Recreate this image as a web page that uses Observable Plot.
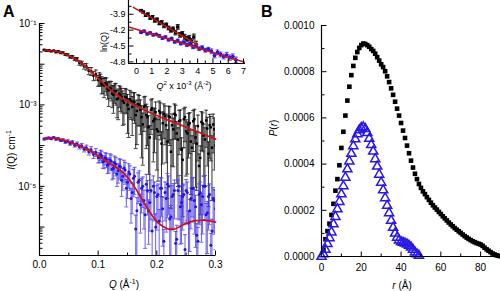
<!DOCTYPE html>
<html><head><meta charset="utf-8">
<script src="https://cdn.jsdelivr.net/npm/d3@7"></script>
<script src="https://cdn.jsdelivr.net/npm/@observablehq/plot@0.6"></script>
<style>
html,body{margin:0;padding:0;background:#fff;}
#wrap{position:relative;width:500px;height:291px;overflow:hidden;background:#fff;}
#wrap svg{position:absolute;}
</style></head><body><div id="wrap"></div>
<script>
const Q = [0.008,0.012,0.016,0.020,0.024,0.028,0.032,0.036,0.040,0.044,0.048,0.052,0.056,0.060,0.064,0.068,0.072,0.076,0.080,0.084,0.088,0.092,0.096,0.100,0.104,0.108,0.112,0.116,0.120,0.124,0.128,0.132,0.136,0.140,0.144,0.148,0.152,0.156,0.160,0.164,0.168,0.172,0.176,0.180,0.184,0.188,0.192,0.196,0.200,0.204,0.208,0.212,0.216,0.220,0.224,0.228,0.232,0.236,0.240,0.244,0.248,0.252,0.256,0.260,0.264,0.268,0.272,0.276,0.280,0.284,0.288,0.292,0.296,0.300];
const blackLog10I = [-1.65,-1.67,-1.66,-1.68,-1.67,-1.70,-1.69,-1.72,-1.72,-1.76,
 -1.77,-1.82,-1.82,-1.87,-1.88,-1.97,-1.98,-2.05,-2.06,-2.16,
 -2.17,-2.28,-2.25,-2.39,
 -2.37,-2.50,-2.47,-2.60,-2.58,-2.72,-2.66,-2.86,-2.72,-2.80,-2.95,-2.82,
 -3.10,-2.90,-2.92,-3.25,-2.98,-3.12,-3.48,-3.02,-3.30,-3.80,-3.08,-3.35,-3.60,-3.15,
 -3.95,-3.22,-3.50,-3.28,-4.15,-3.60,-3.25,-3.85,-3.38,-4.35,-3.30,-3.70,-3.45,-4.05,-3.35,-3.95,-4.50,-3.42,-3.75,-3.38,-4.20,-3.55,-3.48,-4.00];
const blackRelErr = [0.04,0.04,0.04,0.04,0.04,0.05,0.05,0.05,0.05,0.05,
 0.06,0.07,0.08,0.09,0.1,0.12,0.13,0.15,
 0.18,0.2,0.22,0.25,0.28,0.3,
 0.33,0.4,0.38,0.45,0.45,0.55,0.5,0.65,0.55,0.6,0.7,0.6,
 0.8,0.65,0.65,0.85,0.7,0.75,0.9,0.7,0.8,0.95,0.7,0.85,0.9,0.75,
 0.95,0.75,0.88,0.78,0.96,0.88,0.75,0.93,0.8,0.96,0.75,0.9,0.82,0.95,0.75,0.93,0.96,0.8,0.9,0.78,0.95,0.85,0.8,0.92];
const blueLog10I = [-3.84,-3.82,-3.81,-3.83,-3.80,-3.84,-3.83,-3.87,-3.86,-3.91,
 -3.89,-3.95,-3.92,-3.99,-3.96,-4.03,-4.00,-4.09,-4.05,-4.15,
 -4.10,-4.22,-4.16,-4.30,
 -4.22,-4.40,-4.30,-4.48,-4.35,-4.58,-4.42,-4.70,-4.50,-4.85,-4.55,-5.05,
 -4.65,-5.30,-4.80,-6.05,-4.90,-5.45,-5.00,-5.70,-5.10,-5.40,-6.10,-5.15,-5.25,-5.85,
 -5.05,-6.35,-5.30,-5.00,-5.75,-5.20,-6.40,-5.10,-5.50,-5.25,-6.55,-5.15,-5.60,-5.05,-5.35,-6.20,-5.20,-5.45,-5.00,-5.70,-5.25,-6.45,-5.30,-5.55];
const blueRelErr = [0.05,0.05,0.05,0.05,0.05,0.06,0.06,0.06,0.07,0.07,
 0.08,0.09,0.1,0.1,0.11,0.12,0.13,0.14,
 0.15,0.17,0.18,0.2,0.22,0.25,
 0.28,0.3,0.33,0.38,0.4,0.45,0.45,0.5,0.5,0.6,0.55,0.65,
 0.6,0.75,0.65,1.2,0.7,0.8,0.7,0.85,0.75,0.8,0.9,0.8,0.85,0.9,
 0.8,0.95,0.85,0.8,0.9,0.85,0.95,0.8,0.88,0.85,1.3,0.8,0.9,0.8,0.85,0.92,0.82,0.88,0.8,0.9,0.85,0.95,0.85,0.9];
// interleaved high-Q points
const Q2 = [0.102,0.106,0.110,0.114,0.118,0.122,0.126,0.130,0.134,0.138,0.142,0.146,0.150,0.154,0.158,0.162,0.166,0.170,0.174,0.178,0.182,0.186,0.190,0.194,0.198,0.202,0.206,0.210,0.214,0.218,0.222,0.226,0.230,0.234,0.238,0.242,0.246,0.250,0.254,0.258,0.262,0.266,0.270,0.274,0.278,0.282,0.286,0.290,0.294,0.298];
const black2Log10I = [-2.34,-2.47,-2.52,-2.50,-2.64,-2.60,-2.75,-2.66,-2.84,-2.76,
 -2.90,-2.80,-3.00,-2.86,-3.05,-2.93,-3.15,-3.00,-3.30,-3.05,
 -3.25,-3.55,-3.12,-3.40,-3.18,-3.65,-3.20,-3.45,-3.28,-3.90,
 -3.30,-3.50,-3.22,-3.70,-3.40,-4.10,-3.35,-3.65,-3.48,-3.90,
 -3.40,-3.80,-3.52,-4.30,-3.45,-3.85,-3.58,-3.50,-4.05,-3.60];
const black2RelErr = [0.35,0.45,0.5,0.45,0.6,0.5,0.65,0.55,0.7,0.6,
 0.75,0.6,0.8,0.65,0.8,0.7,0.85,0.7,0.9,0.75,
 0.85,0.93,0.75,0.9,0.78,0.94,0.78,0.9,0.8,0.96,
 0.8,0.9,0.75,0.94,0.85,0.96,0.8,0.92,0.85,0.95,
 0.82,0.94,0.86,0.96,0.8,0.93,0.88,0.85,0.95,0.9];
const blue2Log10I = [-4.28,-4.25,-4.38,-4.33,-4.45,-4.38,-4.55,-4.46,-4.62,-4.52,
 -4.75,-4.60,-4.90,-4.70,-5.15,-4.75,-5.60,-4.85,-5.05,-5.35,
 -4.95,-5.60,-5.10,-5.00,-6.00,-5.20,-5.05,-5.55,-5.15,-4.95,
 -5.80,-5.25,-5.10,-6.30,-5.00,-5.40,-5.20,-5.10,-5.90,-5.30,
 -5.05,-5.50,-6.35,-5.15,-5.25,-5.00,-5.65,-5.20,-6.10,-5.35];
const blue2RelErr = [0.28,0.3,0.35,0.38,0.4,0.42,0.45,0.48,0.5,0.52,
 0.55,0.55,0.6,0.6,0.7,0.65,1.1,0.7,0.75,0.8,
 0.75,0.85,0.8,0.8,1.1,0.8,0.85,0.88,0.8,0.85,
 0.9,0.85,0.8,1.2,0.85,0.9,0.8,0.85,0.95,0.82,
 0.85,0.9,1.2,0.8,0.88,0.85,0.9,0.82,0.95,0.85];
const fitQ = [0.008,0.02,0.04,0.06,0.08,0.10,0.12,0.14,0.15,0.16,0.17,0.18,0.19,0.20,0.21,0.22,0.23,0.24,0.25,0.26,0.27,0.28,0.29,0.30];
const blackFitLog10I = [-1.66,-1.67,-1.73,-1.86,-2.08,-2.35,-2.62,-2.83,-2.91,-2.99,-3.06,-3.13,-3.20,-3.26,-3.32,-3.38,-3.43,-3.49,-3.55,-3.61,-3.66,-3.72,-3.78,-3.84];
const blueFitLog10I = [-3.83,-3.81,-3.86,-3.96,-4.08,-4.25,-4.44,-4.63,-4.78,-4.97,-5.20,-5.45,-5.68,-5.86,-5.98,-6.05,-6.05,-5.98,-5.91,-5.86,-5.84,-5.83,-5.85,-5.88];
const aXTicks = [0, 0.1, 0.2, 0.3];
const aXTickLabels = ["0.0", "0.1", "0.2", "0.3"];
const aYTicks = [1e-1, 1e-3, 1e-5];
const aYTickLabels = ["10\u207B\u00B9", "10\u207B\u00B3", "10\u207B\u2075"];

// ---------- Inset: Guinier plot ----------
const insetBlackQ2 = [0.3,0.45,0.6,0.75,0.9,1.05,1.2,1.35,1.5,1.65,1.8,1.95,2.1,2.25,2.4,2.55,2.7,2.85,3.0,3.15,3.3,3.45,3.6,3.75,3.9];
const insetBlackLn = [-3.83,-3.86,-3.92,-3.90,-3.97,-3.95,-4.02,-4.00,-4.07,-4.05,-4.12,-4.10,-4.16,-4.20,-4.18,-4.25,-4.14,-4.29,-4.27,-4.33,-4.37,-4.35,-4.42,-4.33,-4.47];
const insetBlackErr = [0.02,0.02,0.02,0.025,0.025,0.025,0.03,0.03,0.03,0.03,0.035,0.035,0.035,0.04,0.04,0.04,0.045,0.045,0.045,0.05,0.05,0.05,0.055,0.055,0.06];
const insetBlueQ2 = [0.3,0.5,0.7,0.9,1.1,1.3,1.5,1.7,1.9,2.1,2.3,2.5,2.7,2.9,3.1,3.3,3.5,3.7,3.9,4.1,4.3,4.5,4.7,4.9,5.1,5.3,5.5,5.7,5.9,6.1,6.3,6.5];
const insetBlueLn = [-4.24,-4.22,-4.27,-4.25,-4.29,-4.28,-4.31,-4.35,-4.33,-4.38,-4.36,-4.42,-4.40,-4.45,-4.43,-4.48,-4.46,-4.52,-4.50,-4.55,-4.53,-4.58,-4.56,-4.60,-4.68,-4.62,-4.66,-4.70,-4.67,-4.72,-4.70,-4.76];
const insetBlueErr = [0.02,0.02,0.02,0.02,0.02,0.02,0.025,0.025,0.025,0.025,0.025,0.025,0.03,0.03,0.03,0.03,0.03,0.03,0.035,0.035,0.035,0.035,0.035,0.045,0.045,0.045,0.045,0.045,0.05,0.05,0.05,0.05];
const insetBlackFitQ2 = [-0.2, 4.0];
const insetBlackFitLn = [-3.77, -4.48];
const insetBlueFitQ2 = [-0.5, 7.13];
const insetBlueFitLn = [-4.14, -4.81];
const insetXTicks = [0,1,2,3,4,5,6,7];
const insetYTicks = [-3.9,-4.2,-4.5,-4.8];

// ---------- Panel B: P(r), values in units of 1e-4 ----------
const blackR = [1,2,3,4,5,6,7,8,9,10,11,12,13,14,15,16,17,18,19,20,21,22,23,24,25,26,27,28,29,30,31,32,33,34,35,36,37,38,39,40,41,42,43,44,45,46,47,48,49,50,51,52,53,54,55,56,57,58,59,60,61,62,63,64,65,66,67,68,69,70,71,72,73,74,75,76,77,78,79,80,81,82,83,84,85,86,87,88,89,90];
const blackP_1e4 = [0.3,0.75,1.1,1.42,1.8,2.28,2.85,3.35,3.95,4.7,5.4,6.1,6.75,7.35,7.85,8.25,8.6,8.85,9.03,9.15,
 9.22,9.2,9.15,9.08,8.98,8.9,8.78,8.63,8.48,8.32,8.2,8.02,7.8,7.55,7.28,7.0,6.7,6.4,6.1,5.78,
 5.45,5.13,4.8,4.47,4.15,3.85,3.58,3.35,3.14,2.97,2.82,2.7,2.57,2.45,2.33,2.22,2.12,2.03,1.93,1.84,
 1.74,1.65,1.56,1.47,1.39,1.31,1.23,1.16,1.09,1.02,0.95,0.88,0.82,0.76,0.71,0.66,0.62,0.58,0.55,0.52,
 0.46,0.38,0.31,0.25,0.19,0.13,0.09,0.05,0.03,0.01];
const blueR = [0,1,2,3,4,5,6,7,8,9,10,11,12,13,14,15,16,17,18,19,20,21,22,23,24,25,26,27,28,29,30,31,32,33,34,35,36,37,38,39,40,41,42,43,44,45,46,47,48,49];
const blueP_1e4 = [0,0.1,0.3,0.55,0.8,1.05,1.4,1.72,2.05,2.37,2.7,3.05,3.42,3.78,4.12,4.45,4.78,5.08,5.3,5.47,
 5.57,5.6,5.53,5.35,5.1,4.83,4.55,4.22,3.9,3.55,3.2,2.87,2.53,2.2,1.88,1.55,1.25,1.0,0.82,0.7,
 0.63,0.6,0.57,0.53,0.47,0.4,0.3,0.18,0.1,0.04];
const bXTicks = [0,20,40,60,80];
const bYTicks = [0,0.0002,0.0004,0.0006,0.0008,0.0010];

// ---------- helpers ----------
const FONT = '"Liberation Sans", Arial, sans-serif';
const capSym = {draw(c){ c.moveTo(-2,0); c.lineTo(2,0); }};
const tickRight = len => ({draw(c){ c.moveTo(0,0); c.lineTo(len,0); }});
const tickUp = len => ({draw(c){ c.moveTo(0,0); c.lineTo(0,-len); }});
const axStyle = {stroke:"#000", fill:"none", strokeWidth:1};
function ticksMarks(xMajor, xMinor, yMajor, yMinor){
  return [
    Plot.dot(xMajor, {x:d=>d, frameAnchor:"bottom", symbol:tickUp(5), ...axStyle}),
    Plot.dot(xMinor, {x:d=>d, frameAnchor:"bottom", symbol:tickUp(3), ...axStyle}),
    Plot.dot(yMajor, {y:d=>d, frameAnchor:"left", symbol:tickRight(5), ...axStyle}),
    Plot.dot(yMinor, {y:d=>d, frameAnchor:"left", symbol:tickRight(3), ...axStyle})
  ];
}
const wrap = document.getElementById("wrap");
function place(svg, left, top){ svg.style.left = left + "px"; svg.style.top = top + "px"; wrap.appendChild(svg); }

// ---------- Panel A main ----------
const A_YMIN = 2e-7;
function rowsA(qs, logI, rel){
  return qs.map((q,i) => { const I = 10 ** logI[i], e = rel[i];
    return {q, I, hi: I*(1+e), lo: e < 1 ? I*(1-e) : A_YMIN, capLo: e < 1}; });
}
const blackRows = rowsA(Q, blackLog10I, blackRelErr).concat(rowsA(Q2, black2Log10I, black2RelErr));
const blueRows = rowsA(Q, blueLog10I, blueRelErr).concat(rowsA(Q2, blue2Log10I, blue2RelErr));
const fitRows = fitQ.map((q,i) => ({q, black: 10 ** blackFitLog10I[i], blue: 10 ** blueFitLog10I[i]}));
const aYMajor = [], aYMinor = [];
for (let k = -7; k <= -1; k++) { const b = 10 ** k; if (b >= A_YMIN) aYMajor.push(b);
  for (let m = 2; m <= 9; m++) { const v = m * b; if (v >= A_YMIN && v < 0.1) aYMinor.push(v); } }
const aXMinor = [0.05, 0.15, 0.25];
const aXFmt = new Map(aXTicks.map((t,i)=>[t, aXTickLabels[i]]));
const aYFmt = new Map(aYTicks.map((t,i)=>[t, aYTickLabels[i]]));
function errMarks(rows, barColor, ptColor, symbol, r){
  return [
    Plot.ruleX(rows, {x:"q", y1:"lo", y2:"hi", stroke:barColor, strokeWidth:0.85, clip:true}),
    Plot.dot(rows, {x:"q", y:"hi", symbol:capSym, stroke:barColor, strokeWidth:0.8, fill:"none", clip:true}),
    Plot.dot(rows.filter(d=>d.capLo), {x:"q", y:"lo", symbol:capSym, stroke:barColor, strokeWidth:0.8, fill:"none", clip:true}),
    Plot.dot(rows, {x:"q", y:"I", symbol, r, fill:ptColor, stroke:"none", clip:true})
  ];
}
const plotA = Plot.plot({
  width:230, height:291, marginLeft:39, marginRight:15, marginTop:23, marginBottom:36,
  style:{background:"transparent", fontFamily:FONT, fontSize:"10px", color:"#000", overflow:"visible"},
  x:{domain:[0,0.3]},
  y:{type:"log", domain:[A_YMIN, 0.1]},
  marks:[
    ...errMarks(blackRows, "#111", "#000", "square", 1.4),
    ...errMarks(blueRows, "#4e3ff0", "#2614e2", "circle", 1.5),
    Plot.line(fitRows, {x:"q", y:"black", stroke:"#d21010", strokeWidth:1.7, curve:"monotone-x"}),
    Plot.line(fitRows, {x:"q", y:"blue", stroke:"#d21010", strokeWidth:1.7, curve:"monotone-x"}),
    Plot.ruleX([0], {stroke:"#000", strokeWidth:1.2}),
    Plot.ruleY([A_YMIN], {stroke:"#000", strokeWidth:1.2}),
    ...ticksMarks(aXTicks, aXMinor, aYMajor, aYMinor),
    Plot.axisX({ticks:aXTicks, tickFormat:d=>aXFmt.get(d), tickSize:0, tickPadding:5, label:null, fontSize:10}),
    Plot.axisY({ticks:aYTicks, tickFormat:d=>aYFmt.get(d), tickSize:0, tickPadding:3, label:null, fontSize:10})
  ]
});
place(plotA, 0, 0);

// ---------- Inset ----------
const iBlack = insetBlackQ2.map((x,i)=>({x, y:insetBlackLn[i], lo:insetBlackLn[i]-insetBlackErr[i], hi:insetBlackLn[i]+insetBlackErr[i]}));
const iBlue = insetBlueQ2.map((x,i)=>({x, y:insetBlueLn[i], lo:insetBlueLn[i]-insetBlueErr[i], hi:insetBlueLn[i]+insetBlueErr[i]}));
const iFitB = insetBlackFitQ2.map((x,i)=>({x, y:insetBlackFitLn[i]}));
const iFitU = insetBlueFitQ2.map((x,i)=>({x, y:insetBlueFitLn[i]}));
function iErr(rows, barColor, ptColor, symbol){
  return [
    Plot.ruleX(rows, {x:"x", y1:"lo", y2:"hi", stroke:barColor, strokeWidth:0.9}),
    Plot.dot(rows, {x:"x", y:"hi", symbol:capSym, stroke:barColor, strokeWidth:0.9, fill:"none"}),
    Plot.dot(rows, {x:"x", y:"lo", symbol:capSym, stroke:barColor, strokeWidth:0.9, fill:"none"}),
    Plot.dot(rows, {x:"x", y:"y", symbol, r:1.9, fill:ptColor, stroke:"none"})
  ];
}
const plotI = Plot.plot({
  width:160, height:92, marginLeft:33, marginRight:10, marginTop:0, marginBottom:29,
  style:{background:"transparent", fontFamily:FONT, fontSize:"9px", color:"#000", overflow:"visible"},
  x:{domain:[-0.52, 7.13]},
  y:{domain:[-4.83, -3.64]},
  marks:[
    ...iErr(iBlack, "#111", "#000", "square"),
    ...iErr(iBlue, "#4e3ff0", "#2614e2", "circle"),
    Plot.line(iFitB, {x:"x", y:"y", stroke:"#d21010", strokeWidth:1.5, clip:true}),
    Plot.line(iFitU, {x:"x", y:"y", stroke:"#d21010", strokeWidth:1.5, clip:true}),
    Plot.ruleX([-0.52], {stroke:"#000", strokeWidth:1.2}),
    Plot.ruleY([-4.83], {stroke:"#000", strokeWidth:1.2}),
    ...ticksMarks(insetXTicks, [0.5,1.5,2.5,3.5,4.5,5.5,6.5], insetYTicks, [-3.75,-4.05,-4.35,-4.65]),
    Plot.axisX({ticks:insetXTicks, tickFormat:d=>String(d), tickSize:0, tickPadding:4, label:null, fontSize:9}),
    Plot.axisY({ticks:insetYTicks, tickFormat:d=>d.toFixed(1), tickSize:0, tickPadding:3, label:null, fontSize:9})
  ]
});
place(plotI, 95, 0);

// ---------- Panel B ----------
const bBlack = blackR.map((r,i)=>({r, P: blackP_1e4[i]/1e4}));
const bBlue = blueR.map((r,i)=>({r, P: blueP_1e4[i]/1e4}));
const plotB = Plot.plot({
  width:245, height:291, marginLeft:66, marginRight:0, marginTop:25, marginBottom:35,
  style:{background:"transparent", fontFamily:FONT, fontSize:"10px", color:"#000", overflow:"visible"},
  x:{domain:[0,90]},
  y:{domain:[0,0.001]},
  marks:[
    Plot.dot(bBlack, {x:"r", y:"P", symbol:"square", r:2.6, fill:"#000", stroke:"none"}),
    Plot.dot(bBlue, {x:"r", y:"P", symbol:"triangle", r:3.4, fill:"none", stroke:"#2a18e6", strokeWidth:1.5}),
    Plot.ruleX([0], {stroke:"#000", strokeWidth:1.2}),
    Plot.ruleY([0], {stroke:"#000", strokeWidth:1.2}),
    ...ticksMarks(bXTicks, [10,30,50,70,90], bYTicks, [0.0001,0.0003,0.0005,0.0007,0.0009]),
    Plot.axisX({ticks:bXTicks, tickFormat:d=>String(d), tickSize:0, tickPadding:7, label:null, fontSize:10}),
    Plot.axisY({ticks:bYTicks, tickFormat:d=>d.toFixed(4), tickSize:0, tickPadding:7, label:null, fontSize:10})
  ]
});
place(plotB, 255, 0);

// ---------- text overlay ----------
const NS = "http://www.w3.org/2000/svg";
const ov = document.createElementNS(NS, "svg");
ov.setAttribute("width", 500); ov.setAttribute("height", 291);
ov.style.left = "0px"; ov.style.top = "0px"; ov.style.fontFamily = FONT;
ov.innerHTML = `
<text x="3" y="17" font-size="16" font-weight="bold">A</text>
<text x="261" y="17" font-size="16" font-weight="bold">B</text>
<text transform="translate(15,150) rotate(-90)" text-anchor="middle" font-size="10"><tspan font-style="italic">I</tspan>(Q) cm<tspan font-size="7" dy="-4">-1</tspan></text>
<text x="124" y="288" text-anchor="middle" font-size="10"><tspan font-style="italic">Q</tspan> (Å<tspan font-size="7" dy="-4">-1</tspan><tspan dy="4">)</tspan></text>
<text transform="translate(107,42) rotate(-90)" text-anchor="middle" font-size="9">ln(Q)</text>
<text x="184" y="89" text-anchor="middle" font-size="9"><tspan font-style="italic">Q</tspan><tspan font-size="6" dy="-4">2</tspan><tspan dy="4"> x 10</tspan><tspan font-size="6" dy="-4">-3</tspan><tspan dy="4"> (Å</tspan><tspan font-size="6" dy="-4">-2</tspan><tspan dy="4">)</tspan></text>
<text transform="translate(277,128) rotate(-90)" text-anchor="middle" font-size="10"><tspan font-style="italic">P</tspan>(<tspan font-style="italic">r</tspan>)</text>
<text x="402" y="289" text-anchor="middle" font-size="10"><tspan font-style="italic">r</tspan> (Å)</text>`;
wrap.appendChild(ov);
</script></body></html>
